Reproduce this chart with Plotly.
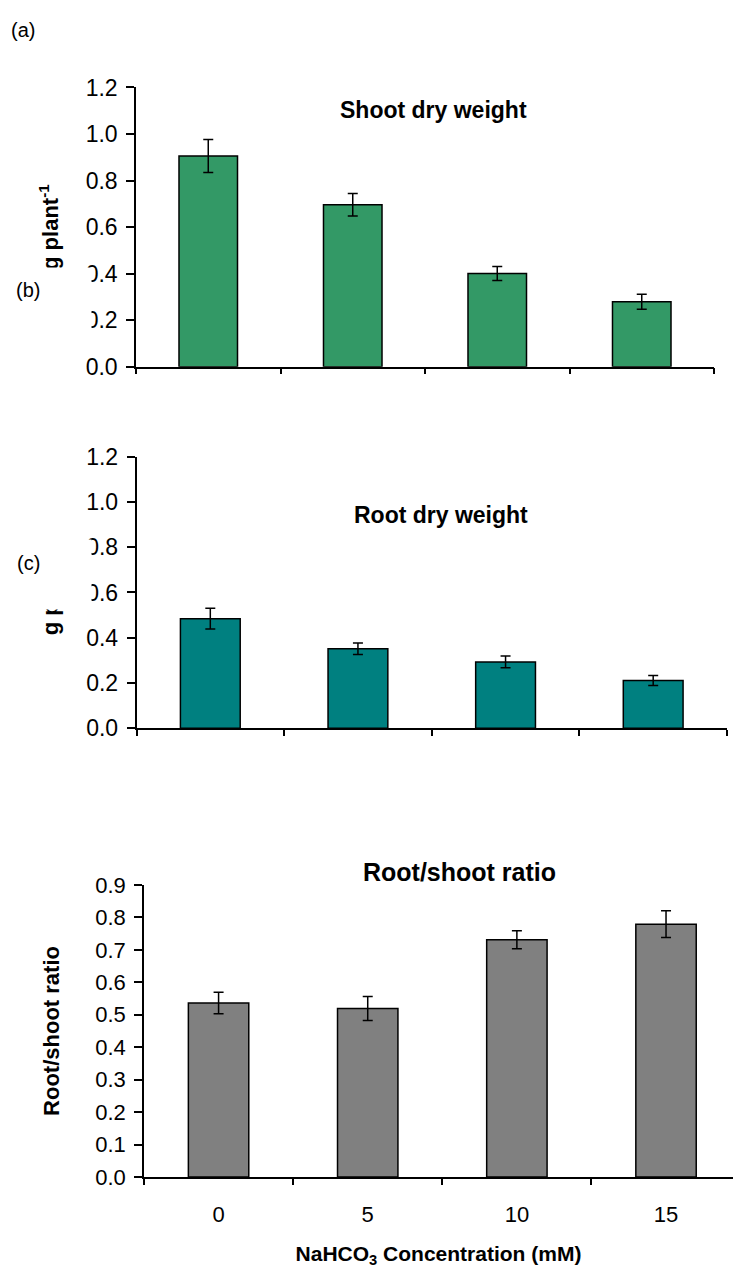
import plotly.graph_objects as go

# Figure size in pixels
W, H = 733, 1278

# NaHCO3 concentration (mM)
categories = ["0", "5", "10", "15"]

# (a) Shoot dry weight, g plant-1 (mean and standard error)
shoot_dw = [0.905, 0.696, 0.400, 0.279]
shoot_err = [0.071, 0.048, 0.030, 0.032]

# (b) Root dry weight, g plant-1
root_dw = [0.484, 0.351, 0.293, 0.211]
root_err = [0.046, 0.025, 0.026, 0.022]

# (c) Root/shoot ratio
ratio = [0.536, 0.519, 0.731, 0.779]
ratio_err = [0.033, 0.037, 0.028, 0.041]

FONT = "Liberation Sans, Arial, sans-serif"
BOLD = dict(family=FONT, size=22, color="black", weight="bold")


def fx(px):
    return px / W


def fy(px):
    return 1 - px / H


def bar(y, err, color, xa, ya):
    return go.Bar(
        x=categories, y=y, xaxis=xa, yaxis=ya, width=0.405,
        marker=dict(color=color, line=dict(color="black", width=1.5)),
        error_y=dict(type="data", array=err, visible=True,
                     color="black", thickness=1.5, width=5),
        showlegend=False, hoverinfo="x+y",
    )


fig = go.Figure()
fig.add_trace(bar(shoot_dw, shoot_err, "#339966", "x", "y"))
fig.add_trace(bar(root_dw, root_err, "#008080", "x2", "y2"))
fig.add_trace(bar(ratio, ratio_err, "#808080", "x3", "y3"))

xcommon = dict(type="category", showline=True, linecolor="black", linewidth=1.5,
               ticks="outside", tickson="boundaries", ticklen=6, tickwidth=1.5,
               tickcolor="black", showgrid=False, zeroline=False,
               tickfont=dict(family=FONT, size=22, color="black"))
ycommon = dict(showline=True, linecolor="black", linewidth=1.5, ticks="outside",
               ticklen=8, tickwidth=1.5, tickcolor="black", showgrid=False,
               zeroline=False, tickformat=".1f", ticklabelstandoff=4,
               tickfont=dict(family=FONT, size=23, color="black"))

fig.update_layout(
    width=W, height=H, margin=dict(l=0, r=0, t=0, b=0),
    paper_bgcolor="white", plot_bgcolor="white", bargap=0.595,
    xaxis=dict(xcommon, domain=[fx(136), fx(714)], anchor="y",
               range=[-0.5, 3.5], showticklabels=False),
    yaxis=dict(ycommon, domain=[fy(361), fy(76)], anchor="x",
               range=[0, 1.2], dtick=0.2,
               title=dict(text="g plant<sup>-1</sup>", font=BOLD, standoff=21)),
    xaxis2=dict(xcommon, domain=[fx(136.5), fx(727)], anchor="y2",
                range=[-0.5, 3.5], showticklabels=False),
    yaxis2=dict(ycommon, domain=[fy(730), fy(453)], anchor="x2",
                range=[0, 1.2], dtick=0.2,
                title=dict(text="g plant<sup>-1</sup>", font=BOLD, standoff=21)),
    xaxis3=dict(xcommon, domain=[fx(144), 1.0], anchor="y3",
                range=[-0.5, 3.449], ticklabelstandoff=17,
                title=dict(text="NaHCO<sub>3</sub> Concentration (mM)",
                           font=dict(BOLD, size=21), standoff=20)),
    yaxis3=dict(ycommon, domain=[fy(1188.3), fy(890)], anchor="x3",
                range=[0, 0.9], dtick=0.1,
                tickfont=dict(family=FONT, size=22, color="black"),
                title=dict(text="Root/shoot ratio", font=BOLD, standoff=30)),
)

ann = []


def text(x, y, s, size, bold=False):
    ann.append(dict(
        x=fx(x), y=fy(y), xref="paper", yref="paper", text=s, showarrow=False,
        xanchor="center", yanchor="middle",
        font=dict(family=FONT, size=size, color="black",
                  weight="bold" if bold else "normal"),
    ))


# Chart titles
text(433, 99, "Shoot dry weight", 23, bold=True)
text(441, 512, "Root dry weight", 23, bold=True)
text(459.5, 877, "Root/shoot ratio", 25, bold=True)

# Panel letters; (b) and (c) sit on white label boxes laid over the chart above
text(22.5, 17, "(a)", 20)
for top, label in ((259, "(b)"), (537, "(c)")):
    ann.append(dict(
        x=0, y=fy(top), xref="paper", yref="paper", text=" ", showarrow=False,
        xanchor="left", yanchor="top", width=90, height=69, borderpad=0,
        bgcolor="white", font=dict(size=10),
    ))
    text(28, top + 24, label, 20)

fig.update_layout(annotations=ann)

fig.write_html("out.html")
